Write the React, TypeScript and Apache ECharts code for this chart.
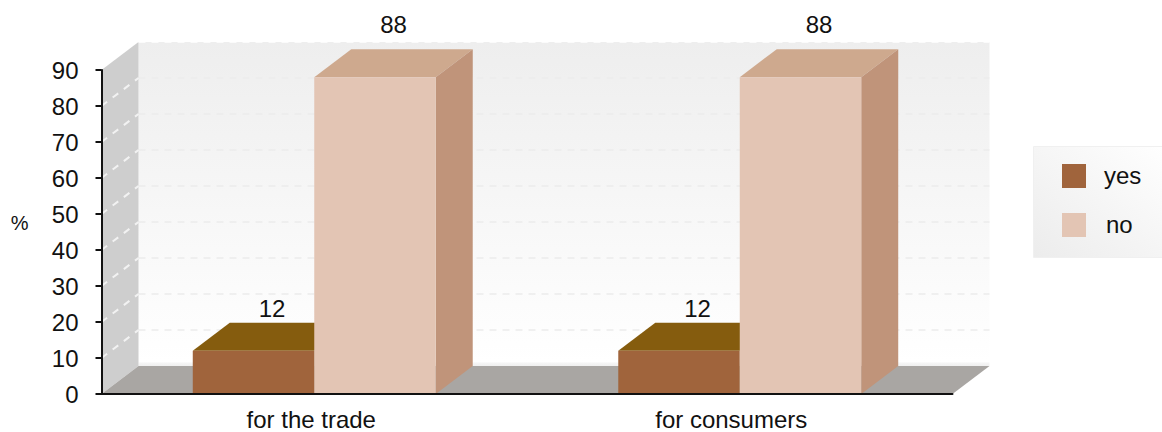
import React, { useEffect, useRef } from "react";
import * as echarts from "echarts";

const categories = ["for the trade", "for consumers"];
const yesValues = [12, 12];
const noValues = [88, 88];
const tickValues = [0, 10, 20, 30, 40, 50, 60, 70, 80, 90];
const FONT = "'Liberation Sans'";
const DX = 37;
const DY = 28;
const BAR_RATIO = 0.2855;

function pts(list: number[][]) {
  return { points: list };
}

function wallItem(params: any) {
  const c = params.coordSys;
  const l = c.x, r = c.x + c.width, t = c.y, b = c.y + c.height;
  return {
    type: "group",
    children: [
      {
        type: "polygon",
        shape: pts([[l + DX, t - DY], [r + DX, t - DY], [r + DX, b - DY], [l + DX, b - DY]]),
        style: {
          fill: new echarts.graphic.LinearGradient(0, 0, 0, 1, [
            { offset: 0, color: "#eeeeee" },
            { offset: 0.988, color: "#ffffff" },
            { offset: 0.99, color: "#f6f6f6" },
            { offset: 1, color: "#f0f0f0" },
          ]),
        },
      },
      {
        type: "polygon",
        shape: pts([[l, t], [l + DX, t - DY], [l + DX, b - DY], [l, b]]),
        style: { fill: "#cecece" },
      },
      {
        type: "polygon",
        shape: pts([[l, b], [l + DX, b - DY], [r + DX, b - DY], [r, b]]),
        style: { fill: "#a9a6a3" },
      },
    ],
  };
}

function gridItem(params: any, api: any) {
  const c = params.coordSys;
  const y = api.coord([0, api.value(1)])[1];
  const l = c.x, r = c.x + c.width;
  const isTop = api.value(1) === tickValues[tickValues.length - 1];
  return {
    type: "group",
    children: [
      {
        type: "line",
        shape: { x1: l + DX, y1: y - DY, x2: r + DX, y2: y - DY },
        style: { stroke: isTop ? "#ffffff" : "#ececec", lineWidth: 1.5, lineDash: [7, 6] },
      },
      ...(isTop
        ? []
        : [
            {
              type: "line",
              shape: { x1: l, y1: y, x2: l + DX, y2: y - DY },
              style: { stroke: "#f2f2f2", lineWidth: 2, lineDash: [7, 7] },
            },
          ]),
    ],
  };
}

function barItem(shift: number, top: string, side: string, labelRise: number) {
  return (params: any, api: any) => {
    const idx = api.value(0);
    const val = api.value(1);
    const w = api.size([1, 0])[0] * BAR_RATIO;
    const [cx, yTop] = api.coord([idx, val]);
    const [, yBase] = api.coord([idx, 0]);
    const x0 = cx + shift * w;
    const x1 = x0 + w;
    return {
      type: "group",
      children: [
        {
          type: "polygon",
          shape: pts([[x0, yTop], [x0 + DX, yTop - DY], [x1 + DX, yTop - DY], [x1, yTop]]),
          style: { fill: top },
        },
        {
          type: "polygon",
          shape: pts([[x1, yTop], [x1 + DX, yTop - DY], [x1 + DX, yBase - DY], [x1, yBase]]),
          style: { fill: side },
        },
        {
          type: "rect",
          shape: { x: x0, y: yTop, width: w, height: yBase - yTop },
          style: { fill: api.visual("color") },
        },
        {
          type: "text",
          style: {
            text: String(val),
            x: (x0 + x1) / 2 + DX / 2,
            y: yTop - labelRise,
            textAlign: "center",
            textVerticalAlign: "middle",
            fill: "#111111",
            font: `24px ${FONT}`,
          },
        },
      ],
    };
  };
}

export default function App() {
  const ref = useRef<HTMLDivElement>(null);
  useEffect(() => {
    const chart = echarts.init(ref.current!, undefined, { renderer: "svg" });
    chart.setOption({
      animation: false,
      backgroundColor: "#ffffff",
      grid: { left: 101.5, top: 70, width: 851, height: 324, outerBoundsMode: "none" },
      xAxis: {
        type: "category",
        data: categories,
        z: 10,
        axisLine: { lineStyle: { color: "#111111", width: 2 } },
        axisTick: { length: 6, lineStyle: { color: "#111111", width: 2 } },
        axisLabel: {
          fontFamily: FONT,
          fontSize: 24,
          color: "#111111",
          margin: 14,
          formatter: (v: string) => (v === categories[0] ? `{a|${v}}` : `{b|${v}}`),
          rich: {
            a: { fontFamily: FONT, fontSize: 24, lineHeight: 22, color: "#111111", padding: [0, 6, 0, 0] },
            b: { fontFamily: FONT, fontSize: 24, lineHeight: 22, color: "#111111", padding: [0, 17, 0, 0] },
          },
        },
      },
      yAxis: {
        type: "value",
        min: 0,
        max: 90,
        interval: 10,
        z: 10,
        name: "{p|%}",
        nameLocation: "middle",
        nameRotate: 0,
        nameGap: 73,
        nameTextStyle: {
          fontFamily: FONT,
          fontSize: 20,
          color: "#111111",
          rich: { p: { fontFamily: FONT, fontSize: 20, color: "#111111", padding: [0, 0, 18, 0] } },
        },
        splitLine: { show: false },
        axisLine: { show: true, lineStyle: { color: "#111111", width: 2 } },
        axisTick: { show: true, length: 6, lineStyle: { color: "#111111", width: 2 } },
        axisLabel: { fontFamily: FONT, fontSize: 24, color: "#111111", margin: 23 },
      },
      legend: {
        left: 1062,
        top: 163,
        padding: 0,
        orient: "vertical",
        icon: "rect",
        itemWidth: 24,
        itemHeight: 24,
        itemGap: 24,
        z: 10,
        selectedMode: false,
        data: ["yes", "no"],
        formatter: (n: string) => (n === "yes" ? `{y|${n}}` : `{n|${n}}`),
        textStyle: {
          fontFamily: FONT,
          fontSize: 24,
          color: "#111111",
          rich: {
            y: { fontFamily: FONT, fontSize: 24, color: "#111111", padding: [0, 0, 2, 13] },
            n: { fontFamily: FONT, fontSize: 24, color: "#111111", padding: [0, 0, 2, 15] },
          },
        },
      },
      graphic: [
        {
          type: "rect",
          z: 1,
          shape: { x: 1033.5, y: 146.5, width: 140, height: 111 },
          style: {
            fill: new echarts.graphic.LinearGradient(0, 1, 1, 0, [
              { offset: 0, color: "#ececec" },
              { offset: 1, color: "#ffffff" },
            ]),
            stroke: "#f0f0f0",
          },
        },
      ],
      series: [
        { type: "custom", name: "walls", z: 1, renderItem: wallItem, data: [[0, 0]], silent: true },
        {
          type: "custom",
          name: "grid",
          z: 2,
          renderItem: gridItem,
          data: tickValues.slice(1).map((v) => [0, v]),
          silent: true,
        },
        {
          type: "custom",
          name: "yes",
          z: 3,
          itemStyle: { color: "#a0643c" },
          renderItem: barItem(-1, "#855c0e", "#7a5a2a", 42),
          data: yesValues.map((v, i) => [i, v]),
        },
        {
          type: "custom",
          name: "no",
          z: 4,
          itemStyle: { color: "#e3c5b4" },
          renderItem: barItem(0, "#cea98e", "#c0947a", 53),
          data: noValues.map((v, i) => [i, v]),
        },
      ],
    });
    return () => chart.dispose();
  }, []);
  return <div ref={ref} style={{ position: "fixed", left: 0, top: 0, width: 1162, height: 432 }} />;
}
